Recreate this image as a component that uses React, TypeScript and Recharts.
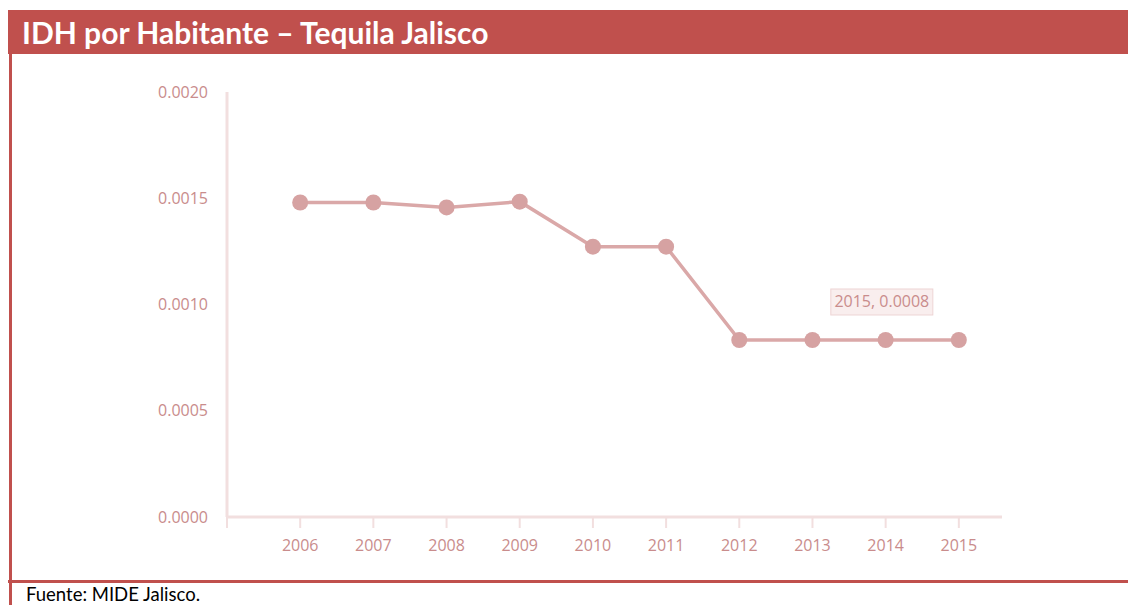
import React from 'react';
import { LineChart, Line, XAxis, YAxis, LabelList } from 'recharts';

const years = [2006, 2007, 2008, 2009, 2010, 2011, 2012, 2013, 2014, 2015];
const idhValues = [0.00148, 0.00148, 0.001457, 0.001484, 0.001272, 0.001272, 0.000833, 0.000833, 0.000833, 0.000833];
const yTicks = [0, 0.0005, 0.001, 0.0015, 0.002];
const xTicks = [2005, 2006, 2007, 2008, 2009, 2010, 2011, 2012, 2013, 2014, 2015];
const calloutText = '2015, 0.0008';
const titleText = 'IDH por Habitante \u2013 Tequila Jalisco';
const sourceText = 'Fuente: MIDE Jalisco.';

const data = years.map((y, i) => ({ year: y, value: idhValues[i] }));

const RED = '#C0504D';
const AXIS = '#F2DFDF';
const TICK_TEXT = '#C98C8C';
const LINE = '#DAA8A8';
const DOT = '#D6A2A2';
const FONT = '"Open Sans", sans-serif';

const Callout = (props: any) => {
  const { x, y, index } = props;
  if (index !== years.length - 1) return null;
  const cx = x - 77;
  const cy = y - 38;
  return (
    <g>
      <rect x={cx - 51} y={cy - 13} width={102} height={26} fill="#F9EEEE" stroke="#EDD4D4" strokeWidth={1} />
      <text x={cx} y={cy + 5.5} textAnchor="middle" fill={TICK_TEXT} fontSize={16} fontFamily={FONT}>
        {calloutText}
      </text>
    </g>
  );
};

export default function App() {
  return (
    <div style={{ position: 'absolute', left: 0, top: 0, width: 1128, height: 605, overflow: 'hidden', background: '#fff' }}>
      <div style={{ position: 'absolute', left: 8, top: 10, width: 1120, height: 44, background: RED }} />
      <div style={{ position: 'absolute', left: 22, top: 10, height: 44, lineHeight: '44px', color: '#fff', fontFamily: 'Lato, sans-serif', fontWeight: 700, fontSize: 30, whiteSpace: 'nowrap' }}>
        {titleText}
      </div>
      <div style={{ position: 'absolute', left: 9, top: 54, width: 3, height: 551, background: RED }} />
      <div style={{ position: 'absolute', left: 8, top: 580, width: 1120, height: 3, background: RED }} />
      <div style={{ position: 'absolute', left: 26, top: 583, fontFamily: 'Lato, sans-serif', fontSize: 18.5, color: '#000', whiteSpace: 'nowrap', lineHeight: '22px' }}>
        {sourceText}
      </div>
      <div style={{ position: 'absolute', left: 0, top: 0 }}>
        <LineChart width={1128} height={605} data={data} margin={{ top: 92, right: 126, bottom: 0, left: 0 }}>
          <XAxis
            dataKey="year"
            type="number"
            domain={[2005, 2015.59]}
            ticks={xTicks}
            allowDataOverflow
            height={88}
            tickFormatter={(v: number) => (v === 2005 ? '' : String(v))}
            axisLine={{ stroke: AXIS, strokeWidth: 3 }}
            tickLine={{ stroke: AXIS, strokeWidth: 2 }}
            tickSize={11}
            tickMargin={12}
            tick={{ fill: TICK_TEXT, fontSize: 16, fontFamily: FONT }}
          />
          <YAxis
            domain={[0, 0.002]}
            ticks={yTicks}
            allowDataOverflow
            width={227}
            tickFormatter={(v: number) => v.toFixed(4)}
            axisLine={{ stroke: AXIS, strokeWidth: 3 }}
            tickLine={false}
            tickSize={0}
            tickMargin={19}
            tick={{ fill: TICK_TEXT, fontSize: 16, fontFamily: FONT }}
          />
          <Line
            type="linear"
            dataKey="value"
            stroke={LINE}
            strokeWidth={3.5}
            dot={{ r: 8, fill: DOT, stroke: 'none' }}
            activeDot={false}
            isAnimationActive={false}
          >
            <LabelList dataKey="value" content={<Callout />} />
          </Line>
        </LineChart>
      </div>
    </div>
  );
}
